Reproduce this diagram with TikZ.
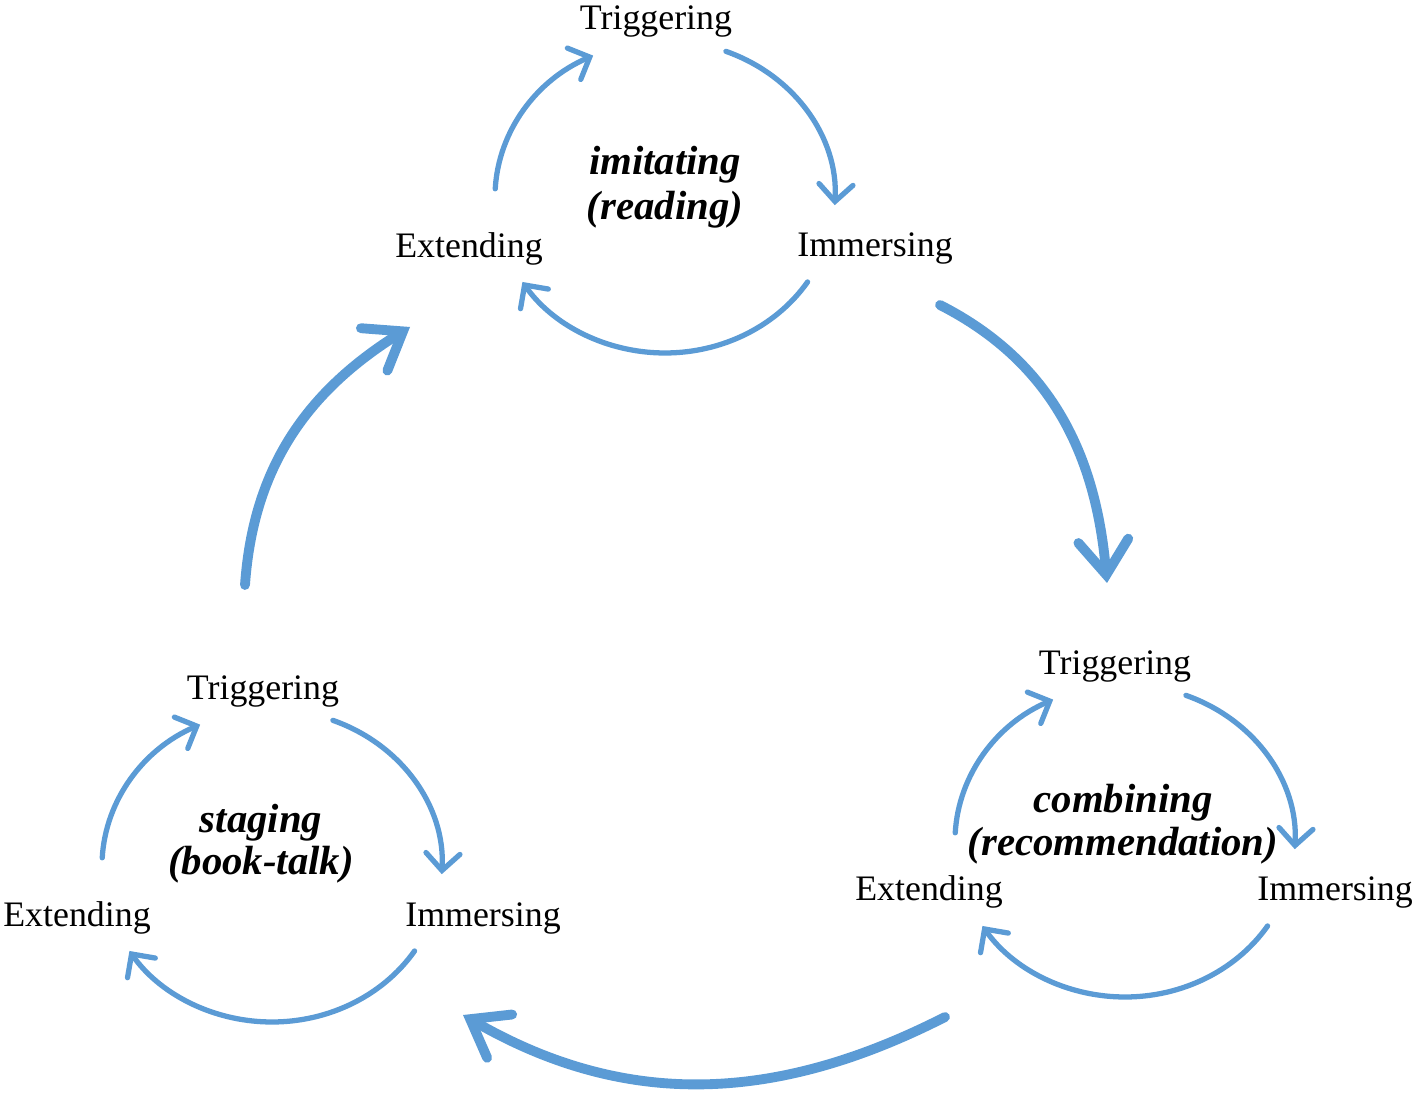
\documentclass[tikz,border=0pt]{standalone}
\usepackage{fontspec}
\setmainfont{Liberation Serif}
\usetikzlibrary{arrows.meta,calc}
\definecolor{cycblue}{RGB}{91,155,213}
\tikzset{
  lbl/.style={inner sep=0pt, font=\fontsize{10.2}{12}\selectfont},
  ttl/.style={inner sep=0pt, font=\fontsize{11.6}{13}\selectfont\bfseries\itshape},
  thinarr/.style={draw=cycblue, line width=1.5pt, line cap=round,
    -{Straight Barb[length=1.7mm, width=3.4mm, line cap=round]}},
  bigarr/.style={draw=cycblue, line width=2.8pt, line cap=round,
    -{Straight Barb[length=3.4mm, width=5mm, line cap=round]}}
}
\newcommand{\cyclearcs}[1]{%
  \draw[thinarr] ($(#1)+(177:1.70 and 1.56)$) arc[start angle=177, end angle=115, x radius=1.70, y radius=1.56];
  \draw[thinarr] ($(#1)+(69:1.70 and 1.56)$) arc[start angle=69, end angle=-3, x radius=1.70, y radius=1.56];
  \draw[thinarr] ($(#1)+(-33:1.70 and 1.56)$) arc[start angle=-33, end angle=-147, x radius=1.70, y radius=1.56];
}
\begin{document}
\begin{tikzpicture}
\useasboundingbox (0,0) rectangle (14.18,10.94);
% cycle centres
\coordinate (C1) at (6.65,8.97);
\coordinate (C2) at (2.72,2.28);
\coordinate (C3) at (11.25,2.53);
% top cycle
\node[lbl] (t1) at (6.56,10.72) {Triggering};
\node[lbl] (e1) at (4.69,8.45) {Extending};
\node[lbl] (i1) at (8.75,8.45) {Immersing};
\node[ttl] (n1a) at (6.65,9.29) {imitating};
\node[ttl] (n1b) at (6.65,8.84) {(reading)};
\cyclearcs{C1}
% bottom-left cycle
\node[lbl] (t2) at (2.63,4.02) {Triggering};
\node[lbl] (e2) at (0.77,1.76) {Extending};
\node[lbl] (i2) at (4.83,1.76) {Immersing};
\node[ttl] (n2a) at (2.61,2.71) {staging};
\node[ttl] (n2b) at (2.61,2.29) {(book-talk)};
\cyclearcs{C2}
% bottom-right cycle
\node[lbl] (t3) at (11.15,4.27) {Triggering};
\node[lbl] (e3) at (9.29,2.02) {Extending};
\node[lbl] (i3) at (13.35,2.02) {Immersing};
\node[ttl] (n3a) at (11.23,2.91) {combining};
\node[ttl] (n3b) at (11.23,2.48) {(recommendation)};
\cyclearcs{C3}
% big arrows
\coordinate (a1s) at (9.40,7.89);
\coordinate (a1e) at (11.07,5.11);
\coordinate (a2s) at (9.45,0.77);
\coordinate (a2e) at (4.63,0.79);
\coordinate (a3s) at (2.45,5.09);
\coordinate (a3e) at (4.10,7.67);
\draw[bigarr] (a1s) to[out=-27, in=95] (a1e);
\draw[bigarr] (a2s) to[out=-153, in=-30] (a2e);
\draw[bigarr] (a3s) to[out=86, in=212] (a3e);
\end{tikzpicture}
\end{document}
